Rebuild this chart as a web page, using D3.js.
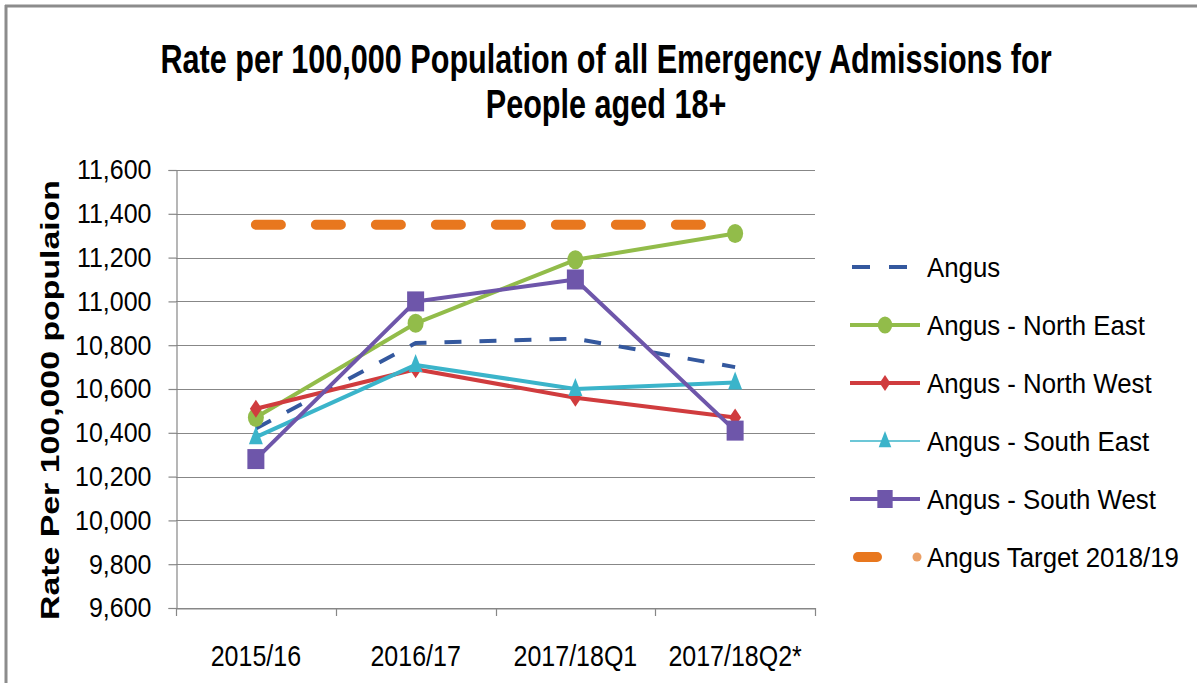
<!DOCTYPE html>
<html>
<head>
<meta charset="utf-8">
<script src="https://cdn.jsdelivr.net/npm/d3@7"></script>
<style>
  html, body { margin: 0; padding: 0; background: #ffffff; }
  svg { display: block; }
  text { font-family: "Liberation Sans", Arial, sans-serif; fill: #000; }
</style>
</head>
<body>
<svg id="chart" width="1197" height="683"></svg>
<script>
// Periods on the x axis
const categories = ["2015/16", "2016/17", "2017/18Q1", "2017/18Q2*"];

// Rate per 100,000 population, one array per locality
const angus      = [10420, 10810, 10830, 10700];
const northEast  = [10470, 10900, 11190, 11310];
const northWest  = [10510, 10690, 10560, 10470];
const southEast  = [10380, 10710, 10600, 10630];
const southWest  = [10280, 11000, 11100, 10410];
const target     = [11350, 11350, 11350, 11350];

// Y axis tick values
const yTicks = [9600, 9800, 10000, 10200, 10400, 10600, 10800, 11000, 11200, 11400, 11600];

const seriesNames = ["Angus", "Angus - North East", "Angus - North West",
                     "Angus - South East", "Angus - South West", "Angus Target 2018/19"];

const series = [
  { name: seriesNames[0], values: angus,     color: "#34589E", width: 4,  dash: "17,18", marker: null },
  { name: seriesNames[1], values: northEast, color: "#92BC4A", width: 4,  dash: null,    marker: "circle" },
  { name: seriesNames[2], values: northWest, color: "#D03C3E", width: 4,  dash: null,    marker: "diamond" },
  { name: seriesNames[3], values: southEast, color: "#3BB4CA", width: 4,  dash: null,    marker: "triangle" },
  { name: seriesNames[4], values: southWest, color: "#6E56AA", width: 4,  dash: null,    marker: "square" },
  { name: seriesNames[5], values: target,    color: "#E8771E", width: 10, dash: "25,35", marker: null, cap: "round" }
];

const svg = d3.select("#chart");

// outer frame (left and top edges)
svg.append("line").attr("x1", 6).attr("y1", 5).attr("x2", 6).attr("y2", 683)
  .attr("stroke", "#8c8c8c").attr("stroke-width", 3);
svg.append("line").attr("x1", 5).attr("y1", 6).attr("x2", 1197).attr("y2", 6)
  .attr("stroke", "#8c8c8c").attr("stroke-width", 3);

const plot = { left: 176, right: 815, top: 170, bottom: 608 };

const x = d3.scaleBand().domain(categories).range([plot.left, plot.right]).paddingInner(0).paddingOuter(0);
const y = d3.scaleLinear().domain([9600, 11600]).range([plot.bottom, plot.top]);
const cx = c => x(c) + x.bandwidth() / 2;

// title: two lines, glyphs drawn tall and narrow
const titleLines = [
  { text: "Rate per 100,000 Population of all Emergency Admissions for", baseline: 73 },
  { text: "People aged 18+", baseline: 118 }
];
titleLines.forEach(t => {
  svg.append("text")
    .attr("transform", `translate(606,${t.baseline}) scale(1,1.3)`)
    .attr("text-anchor", "middle")
    .style("font-weight", "bold").style("font-size", "30.6px")
    .text(t.text);
});

// horizontal gridlines
svg.append("g").selectAll("line").data(yTicks).join("line")
  .attr("x1", plot.left).attr("x2", plot.right)
  .attr("y1", d => Math.round(y(d)) + 0.5).attr("y2", d => Math.round(y(d)) + 0.5)
  .attr("stroke", "#878787").attr("stroke-width", 1.2);

// y axis
const yAxis = d3.axisLeft(y).tickValues(yTicks).tickFormat(d3.format(",")).tickSize(8).tickPadding(17);
const gy = svg.append("g").attr("transform", `translate(${plot.left + 0.5},0)`).call(yAxis);
gy.select(".domain").attr("stroke", "#878787").attr("stroke-width", 1.2);
gy.selectAll(".tick line").attr("stroke", "#878787").attr("stroke-width", 1.2);
gy.selectAll(".tick text").style("font-size", "25px").style("font-family", "Liberation Sans, Arial, sans-serif")
  .attr("fill", "#000").attr("transform", "scale(1,1.12)");

// x axis
const xAxis = d3.axisBottom(x).tickSize(0).tickPadding(0);
const gx = svg.append("g").attr("transform", `translate(0,${plot.bottom + 0.5})`).call(xAxis);
gx.select(".domain").attr("stroke", "#878787").attr("stroke-width", 1.2);
gx.selectAll(".tick text").style("font-size", "25px").style("font-family", "Liberation Sans, Arial, sans-serif")
  .attr("fill", "#000").attr("y", 0).attr("dy", null)
  .attr("transform", "translate(0,57) scale(1,1.15)");
// category boundary tick marks
const bounds = categories.map(c => x(c)).concat([plot.right]);
svg.append("g").selectAll("line").data(bounds).join("line")
  .attr("x1", d => Math.round(d) + 0.5).attr("x2", d => Math.round(d) + 0.5)
  .attr("y1", plot.bottom).attr("y2", plot.bottom + 8)
  .attr("stroke", "#878787").attr("stroke-width", 1.2);

// y axis title
svg.append("text")
  .attr("transform", `translate(59,400) rotate(-90)`)
  .attr("text-anchor", "middle")
  .attr("textLength", 440).attr("lengthAdjust", "spacingAndGlyphs")
  .style("font-weight", "bold").style("font-size", "25px")
  .text("Rate Per 100,000 populaion");

// marker drawing
function drawMarker(g, type, color, px, py, scale) {
  const s = scale || 1;
  if (type === "circle") {
    g.append("ellipse").attr("cx", px).attr("cy", py).attr("rx", 8 * s).attr("ry", 9.5 * s).attr("fill", color);
  } else if (type === "square") {
    g.append("rect").attr("x", px - 8.5 * s).attr("y", py - 10 * s).attr("width", 17 * s).attr("height", 20 * s).attr("fill", color);
  } else if (type === "diamond") {
    g.append("path").attr("d", `M${px},${py - 9 * s}L${px + 6 * s},${py}L${px},${py + 9 * s}L${px - 6 * s},${py}Z`).attr("fill", color);
  } else if (type === "triangle") {
    g.append("path").attr("d", `M${px},${py - 11 * s}L${px + 7 * s},${py + 7 * s}L${px - 7 * s},${py + 7 * s}Z`).attr("fill", color);
  }
}

const line = d3.line().x((d, i) => cx(categories[i])).y(d => y(d));

series.forEach(s => {
  const g = svg.append("g");
  g.append("path").attr("d", line(s.values))
    .attr("fill", "none").attr("stroke", s.color).attr("stroke-width", s.width)
    .attr("stroke-dasharray", s.dash).attr("stroke-linecap", s.cap || "butt")
    .attr("stroke-linejoin", "round");
  if (s.marker) {
    s.values.forEach((v, i) => drawMarker(g, s.marker, s.color, cx(categories[i]), y(v)));
  }
});

// legend
const legend = svg.append("g");
series.forEach((s, i) => {
  const ly = 267 + i * 58;
  const g = legend.append("g");
  if (i === 0) {
    g.append("line").attr("x1", 852).attr("x2", 907).attr("y1", ly).attr("y2", ly)
      .attr("stroke", s.color).attr("stroke-width", 4).attr("stroke-dasharray", "18,19");
  } else if (i === 5) {
    g.append("line").attr("x1", 858).attr("x2", 877).attr("y1", ly).attr("y2", ly)
      .attr("stroke", s.color).attr("stroke-width", 10).attr("stroke-linecap", "round");
    g.append("circle").attr("cx", 917).attr("cy", ly).attr("r", 4.5).attr("fill", "#EBA066");
  } else {
    g.append("line").attr("x1", 850).attr("x2", 920).attr("y1", ly).attr("y2", ly)
      .attr("stroke", s.color).attr("stroke-width", i === 3 ? 1.5 : 4);
    drawMarker(g, s.marker, s.color, 885, ly, 0.9);
  }
  g.append("text").attr("transform", `translate(927,${ly}) scale(1,1.1)`).attr("dy", "0.35em")
    .style("font-size", "25.8px").text(s.name);
});
</script>
</body>
</html>
